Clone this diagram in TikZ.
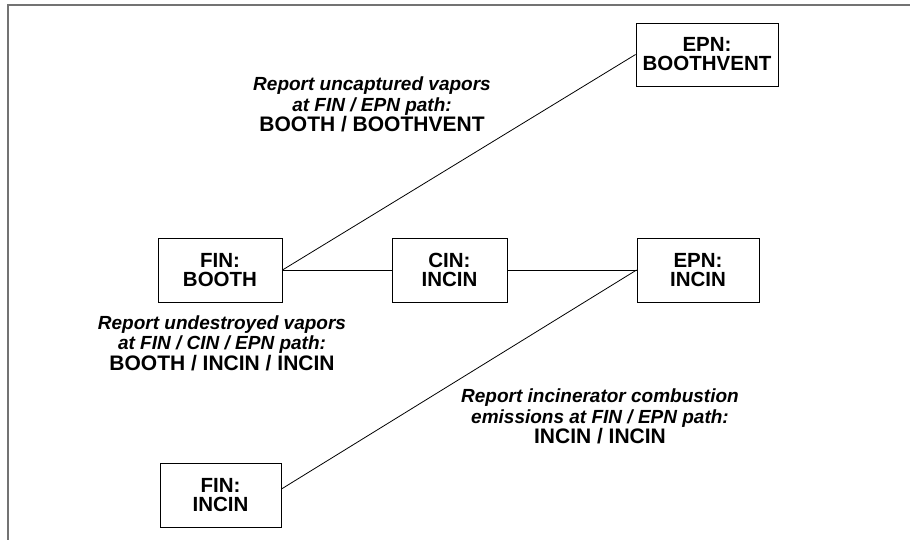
\documentclass[tikz,border=0pt]{standalone}
\usepackage{fontspec}
\setmainfont{Liberation Sans}
% two faces used in the path notes
\newcommand\noteslant{\fontsize{19}{20.5}\selectfont\bfseries\itshape}
\newcommand\noteplain{\fontsize{21}{20.5}\selectfont\bfseries\upshape}
\begin{document}
\begin{tikzpicture}[x=1pt,y=-1pt,
  unit/.style={draw=black,line width=0.9pt,minimum height=64pt,inner sep=0pt,
    align=center,font=\fontsize{20.5}{19}\selectfont\bfseries},
  note/.style={align=center,inner sep=0pt,font=\fontsize{21}{20.5}\selectfont},
  link/.style={line width=0.8pt}]
\useasboundingbox (0,0) rectangle (910,539);
% page frame, cut off on the right and at the bottom
\begin{scope}
\clip (0,0) rectangle (910,539);
\draw[line width=2pt,color=black!55] (8,600) -- (8,5) -- (950,5);
\end{scope}
% units
\node[unit,minimum width=142pt,minimum height=63pt] (epnvent) at (707,54.5) {EPN:\\BOOTHVENT};
\node[unit,minimum width=124pt] (finbooth) at (220,270) {FIN:\\BOOTH};
\node[unit,minimum width=115pt] (cin) at (449.5,270) {CIN:\\INCIN};
\node[unit,minimum width=122pt] (epnincin) at (698,270) {EPN:\\INCIN};
\node[unit,minimum width=121pt] (finincin) at (220.5,495) {FIN:\\INCIN};
% paths
\draw[link] (finbooth.east) -- (epnvent.west);
\draw[link] (finbooth.east) -- (cin.west);
\draw[link] (cin.east) -- (epnincin.west);
\draw[link] ([yshift=6pt]finincin.east) -- (epnincin.west);
% path notes
\node[note] (n1) at (372,104.5) {\noteslant Report uncaptured vapors\\\noteslant at FIN / EPN path:\\\noteplain BOOTH / BOOTHVENT};
\node[note] (n2) at (222,343) {\noteslant Report undestroyed vapors\\\noteslant at FIN / CIN / EPN path:\\\noteplain BOOTH / INCIN / INCIN};
\node[note] (n3) at (600,416.5) {\noteslant Report incinerator combustion\\\noteslant emissions at FIN / EPN path:\\\noteplain INCIN / INCIN};
\end{tikzpicture}
\end{document}
